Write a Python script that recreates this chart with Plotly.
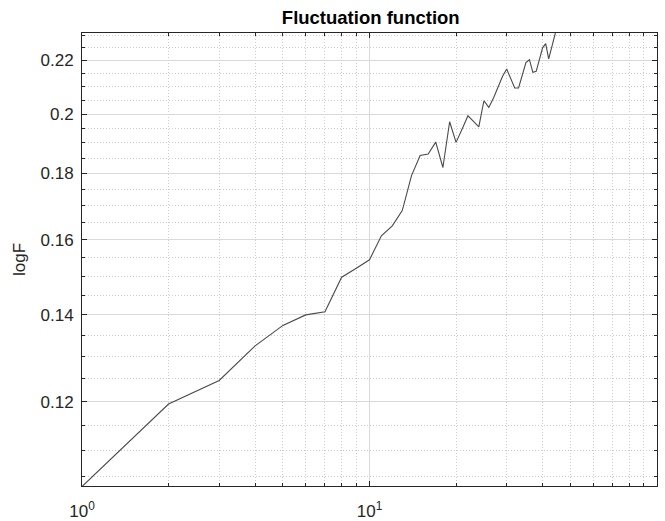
import math
import plotly.graph_objects as go

# Fluctuation function F(n) on log-log axes
n_values = list(range(1, 46))
log_f = [
    0.1032, 0.1195, 0.1246, 0.1325, 0.1374, 0.1400, 0.1408, 0.1497, 0.1521, 0.1544,
    0.1611, 0.1640, 0.1685, 0.1793, 0.1858, 0.1863, 0.1903, 0.1819, 0.1973, 0.1902,
    0.1948, 0.1994, 0.1974, 0.1955, 0.2048, 0.2024, 0.2058, 0.2100, 0.2138, 0.2167,
    0.2131, 0.2095, 0.2095, 0.2142, 0.2192, 0.2203, 0.2154, 0.2158, 0.2209, 0.2250,
    0.2267, 0.2206, 0.2251, 0.2295, 0.2341,
]

x_tick_vals = [1, 10]
x_tick_text = ["10<sup>0</sup>", "10<sup>1</sup>"]
x_minor_vals = [2, 3, 4, 5, 6, 7, 8, 9, 20, 30, 40, 50, 60, 70, 80, 90]

y_tick_vals = [0.12, 0.14, 0.16, 0.18, 0.20, 0.22]
y_tick_text = ["0.12", "0.14", "0.16", "0.18", "0.2", "0.22"]
y_minor_vals = [0.105, 0.11, 0.115, 0.125, 0.13, 0.135, 0.145, 0.15, 0.155,
                0.165, 0.17, 0.175, 0.185, 0.19, 0.195, 0.205, 0.21, 0.215,
                0.225, 0.23]

x_limits = [1, 100]
y_limits = [0.1033, 0.231]

axis_color = "#262626"
major_grid = "#d9d9d9"
minor_grid = "#cccccc"
font_family = "Liberation Sans, Arial, sans-serif"

fig = go.Figure()
fig.add_trace(go.Scatter(
    x=n_values, y=log_f, mode="lines",
    line=dict(color="#4a4a4a", width=1.1),
    showlegend=False,
))

common_axis = dict(
    type="log",
    showline=True, linecolor=axis_color, linewidth=1, mirror="ticks",
    ticks="inside", ticklen=5, tickcolor=axis_color, tickwidth=1,
    showgrid=True, gridcolor=major_grid, gridwidth=1,
    tickfont=dict(family=font_family, size=17, color=axis_color),
    zeroline=False,
)

minor_style = dict(ticks="inside", ticklen=3, tickcolor=axis_color,
                   showgrid=True, griddash="1px,2px",
                   gridcolor=minor_grid, gridwidth=1)

fig.update_xaxes(
    **common_axis,
    range=[math.log10(x_limits[0]), math.log10(x_limits[1])],
    tickmode="array", tickvals=x_tick_vals, ticktext=x_tick_text,
    ticklabelstandoff=10,
    minor=dict(tickvals=x_minor_vals, **minor_style),
)
fig.update_yaxes(
    **common_axis,
    range=[math.log10(y_limits[0]), math.log10(y_limits[1])],
    tickmode="array", tickvals=y_tick_vals, ticktext=y_tick_text,
    ticklabelstandoff=4,
    title=dict(text="logF", standoff=10,
               font=dict(family=font_family, size=17, color=axis_color)),
    minor=dict(tickvals=y_minor_vals, **minor_style),
)

fig.update_layout(
    width=665, height=521,
    margin=dict(l=82, r=8, t=33, b=35, autoexpand=False),
    paper_bgcolor="white", plot_bgcolor="white",
    title=dict(text="<b>Fluctuation function</b>", x=0.5575, xanchor="center",
               y=1 - 18 / 521, yanchor="middle",
               font=dict(family=font_family, size=18.5, color="#000000")),
)

fig.write_html("out.html")
